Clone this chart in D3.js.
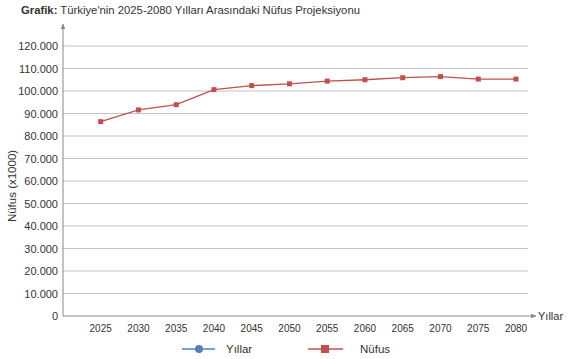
<!DOCTYPE html>
<html><head><meta charset="utf-8">
<script src="https://cdn.jsdelivr.net/npm/d3@7/dist/d3.min.js"></script>
<style>
body{margin:0;background:#fff;}
text{font-family:"Liberation Sans",Arial,Helvetica,sans-serif;fill:#333;}
</style></head>
<body>
<svg id="c" width="582" height="359"></svg>
<script>
const years = [2025,2030,2035,2040,2045,2050,2055,2060,2065,2070,2075,2080];
const population = [86400,91600,93900,100600,102400,103200,104400,105000,105900,106400,105300,105300];
const yTicks = [0,10000,20000,30000,40000,50000,60000,70000,80000,90000,100000,110000,120000];
const titleBold = "Grafik:";
const titleText = " Türkiye'nin 2025-2080 Yılları Arasındaki Nüfus Projeksiyonu";
const yTitle = "Nüfus (x1000)";
const xTitle = "Yıllar";
const legendItems = ["Yıllar","Nüfus"];

const svg = d3.select("#c");
const x0 = 63, x1 = 528, yBottom = 316, yTop = 46;
const x = d3.scaleLinear().domain([2025,2080]).range([100.7,516]);
const y = d3.scaleLinear().domain([0,120000]).range([yBottom,yTop]);
const fmt = d => d===0 ? "0" : d3.format(",")(d).replace(/,/g,".");

// title
const t = svg.append("text").attr("x",21).attr("y",14).style("font-size","11.3px");
t.append("tspan").attr("font-weight","bold").text(titleBold);
t.append("tspan").text(titleText);

// grid lines
svg.append("g").selectAll("line").data(yTicks.filter(d=>d>0)).join("line")
  .attr("x1",x0).attr("x2",x1).attr("y1",d=>y(d)).attr("y2",d=>y(d))
  .attr("stroke","#c4c4c4").attr("stroke-width",1.2);

// y tick labels
svg.append("g").selectAll("text").data(yTicks).join("text")
  .attr("x",58).attr("y",d=>y(d)+4).attr("text-anchor","end")
  .style("font-size","11px").text(fmt);

// arrow marker
const defs = svg.append("defs");
defs.append("marker").attr("id","arr").attr("viewBox","0 0 10 10").attr("refX",9).attr("refY",5)
  .attr("markerWidth",6).attr("markerHeight",6).attr("orient","auto")
  .append("path").attr("d","M0,1 L10,5 L0,9 Z").attr("fill","#888");

// axes
svg.append("line").attr("x1",x0).attr("x2",x0).attr("y1",yBottom).attr("y2",24)
  .attr("stroke","#888").attr("stroke-width",1).attr("marker-end","url(#arr)");
svg.append("line").attr("x1",x0).attr("x2",536).attr("y1",yBottom).attr("y2",yBottom)
  .attr("stroke","#888").attr("stroke-width",1).attr("marker-end","url(#arr)");

// x tick labels
svg.append("g").selectAll("text").data(years).join("text")
  .attr("x",d=>x(d)).attr("y",332).attr("text-anchor","middle")
  .style("font-size","10px").text(d=>d);

svg.append("text").attr("x",538).attr("y",320).style("font-size","11px").text(xTitle);

// y title
svg.append("text").attr("transform","translate(16,186) rotate(-90)").attr("text-anchor","middle")
  .style("font-size","11.5px").text(yTitle);

// line
const red = "#c0504d", blue = "#4f81bd";
svg.append("path").datum(years.map((yr,i)=>[yr,population[i]]))
  .attr("fill","none").attr("stroke",red).attr("stroke-width",1.3)
  .attr("d",d3.line().x(d=>x(d[0])).y(d=>y(d[1])));
svg.append("g").selectAll("rect").data(years.map((yr,i)=>[yr,population[i]])).join("rect")
  .attr("x",d=>x(d[0])-2.5).attr("y",d=>y(d[1])-2.5).attr("width",5).attr("height",5)
  .attr("fill",red);

// legend
const ly = 349;
svg.append("line").attr("x1",182).attr("x2",215).attr("y1",ly).attr("y2",ly).attr("stroke",blue).attr("stroke-width",1.5);
svg.append("circle").attr("cx",199).attr("cy",ly).attr("r",4).attr("fill",blue);
svg.append("text").attr("x",226).attr("y",ly+4).style("font-size","11.5px").text(legendItems[0]);
svg.append("line").attr("x1",308).attr("x2",343).attr("y1",ly).attr("y2",ly).attr("stroke",red).attr("stroke-width",1.3);
svg.append("rect").attr("x",321).attr("y",ly-4).attr("width",8).attr("height",8).attr("fill",red);
svg.append("text").attr("x",360).attr("y",ly+4).style("font-size","11.5px").text(legendItems[1]);
</script>
</body></html>
